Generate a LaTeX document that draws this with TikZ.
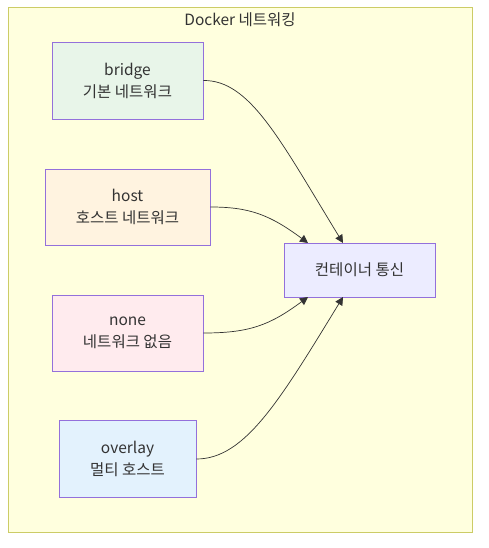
\documentclass[tikz,border=0pt]{standalone}
\usepackage{fontspec}
\setmainfont{Noto Sans CJK KR}
\usetikzlibrary{arrows.meta}
\definecolor{clfill}{HTML}{FFFFDE}
\definecolor{clline}{HTML}{CCCC66}
\definecolor{ndline}{HTML}{9370DB}
\definecolor{txt}{HTML}{333333}
\definecolor{fbridge}{HTML}{E8F5E9}
\definecolor{fhost}{HTML}{FFF3E0}
\definecolor{fnone}{HTML}{FFEBEE}
\definecolor{foverlay}{HTML}{E3F2FD}
\definecolor{fcont}{HTML}{ECECFF}
\tikzset{
  nodebox/.style={draw=ndline, line width=0.9pt, text=txt, align=center,
    font=\fontsize{15.5}{22}\selectfont, inner sep=0pt},
  edge/.style={draw=txt, line width=0.7pt, -{Triangle[length=8pt,width=8pt]}},
}
\begin{document}
\begin{tikzpicture}[x=1pt,y=-1pt]
\useasboundingbox (0,0) rectangle (488,548);
\node[draw=clline, fill=clfill, line width=1pt, minimum width=464pt, minimum height=524pt, inner sep=0pt] (cluster) at (240,270) {};
\node[text=txt, font=\fontsize{15.5}{16}\selectfont] (title) at (240,20) {Docker 네트워킹};
\node[nodebox, fill=fbridge, minimum width=151pt, minimum height=77pt] (bridge) at (127.5,80.5) {bridge\\기본 네트워크};
\node[nodebox, fill=fhost, minimum width=165pt, minimum height=76pt] (host) at (127.5,207) {host\\호스트 네트워크};
\node[nodebox, fill=fnone, minimum width=151pt, minimum height=76pt] (none) at (127.5,333) {none\\네트워크 없음};
\node[nodebox, fill=foverlay, minimum width=137pt, minimum height=77pt] (overlay) at (127.5,459) {overlay\\멀티 호스트};
\node[nodebox, fill=fcont, minimum width=151pt, minimum height=54pt] (cont) at (359.5,270) {컨테이너 통신};
\coordinate (ct1) at (343,243);
\coordinate (ct2) at (308,243);
\coordinate (cb1) at (308,297);
\coordinate (cb2) at (343,297);
\draw[edge] (bridge.east) .. controls (250,80) and (280,140) .. (ct1);
\draw[edge] (host.east) .. controls (250,207) and (270,215) .. (ct2);
\draw[edge] (none.east) .. controls (250,333) and (270,325) .. (cb1);
\draw[edge] (overlay.east) .. controls (245,459) and (280,400) .. (cb2);
\end{tikzpicture}
\end{document}
